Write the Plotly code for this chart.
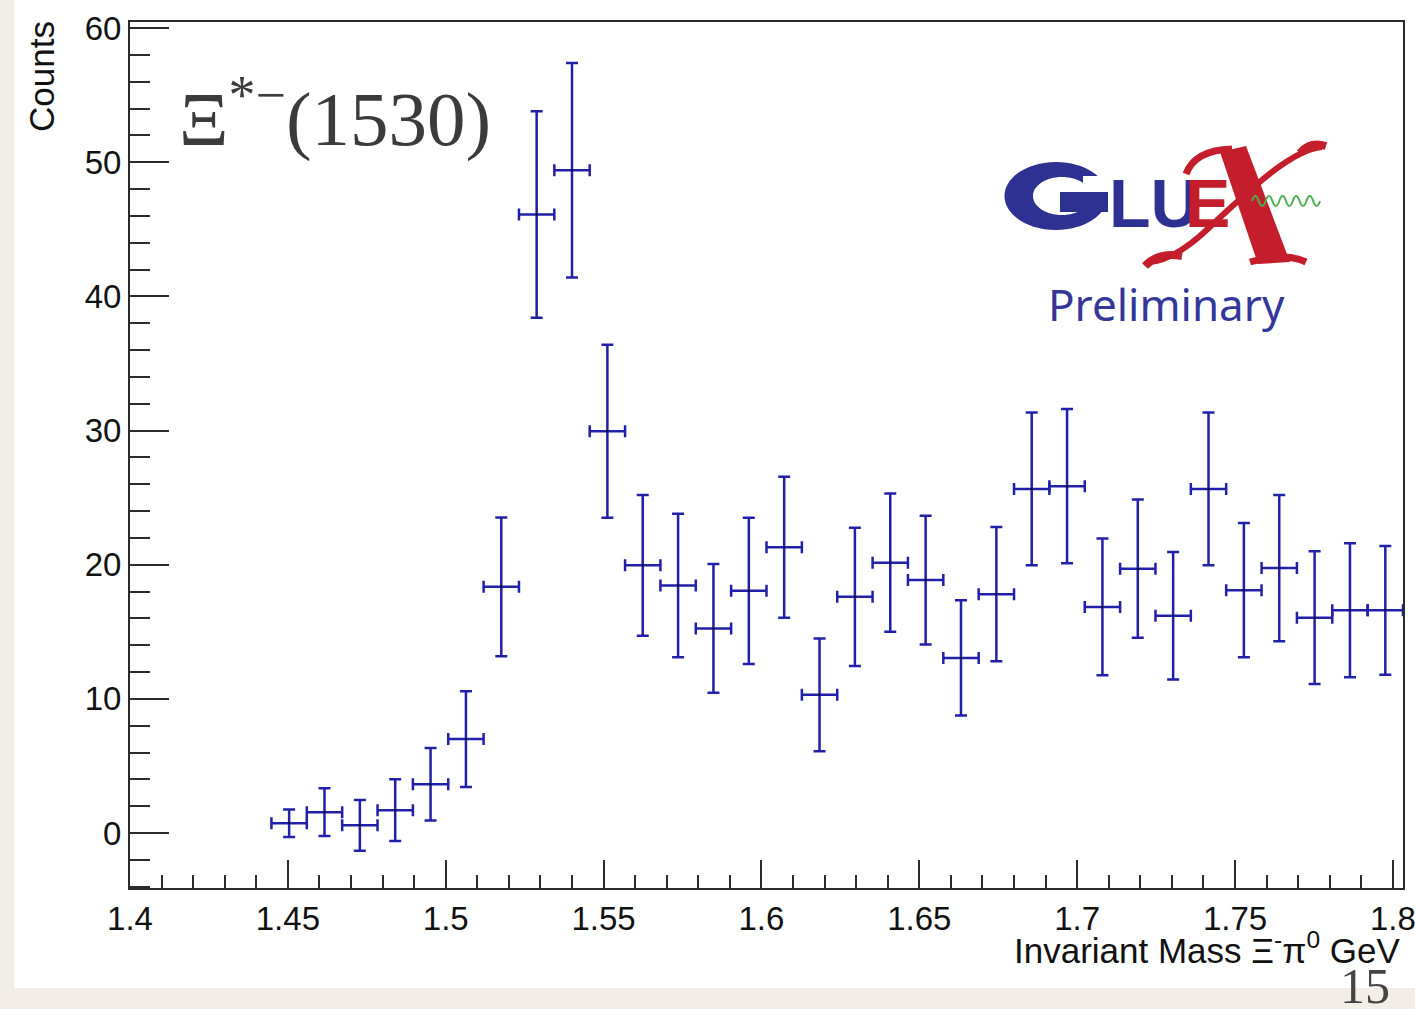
import re
import plotly.graph_objects as go

# ---------------- data ----------------
mass = [1.4504, 1.4616, 1.4728, 1.4840, 1.4952, 1.5064, 1.5176, 1.5288,
        1.5400, 1.5512, 1.5624, 1.5736, 1.5848, 1.5960, 1.6072, 1.6184,
        1.6296, 1.6408, 1.6520, 1.6632, 1.6744, 1.6856, 1.6968, 1.7080,
        1.7192, 1.7304, 1.7416, 1.7528, 1.7640, 1.7752, 1.7864, 1.7976]
counts = [0.73, 1.55, 0.57, 1.70, 3.63, 7.0, 18.35, 46.1,
          49.4, 29.95, 19.95, 18.45, 15.25, 18.05, 21.3, 10.3,
          17.6, 20.15, 18.85, 13.05, 17.8, 25.65, 25.85, 16.85,
          19.7, 16.2, 25.65, 18.1, 19.75, 16.05, 16.6, 16.6]
count_err = [1.02, 1.78, 1.89, 2.3, 2.7, 3.57, 5.17, 7.7,
             8.0, 6.45, 5.25, 5.35, 4.8, 5.45, 5.25, 4.2,
             5.15, 5.15, 4.8, 4.3, 5.0, 5.7, 5.75, 5.1,
             5.15, 4.75, 5.7, 5.0, 5.45, 4.95, 5.0, 4.8]
half_bin = [0.0056] * len(mass)

x_range = [1.4, 1.8032]
y_range = [-4.1, 60.45]
x_tickvals = [1.4, 1.45, 1.5, 1.55, 1.6, 1.65, 1.7, 1.75, 1.8]
x_ticktext = ["1.4", "1.45", "1.5", "1.55", "1.6", "1.65", "1.7", "1.75", "1.8"]

# ---------------- geometry ----------------
W, H = 1415, 1009
L, T, PW, PH = 130, 22, 1273, 866


def px(x):
    return (x - L) / PW


def py(y):
    return (T + PH - y) / PH


def path(s):
    toks = re.findall(r"[A-Za-z]|-?\d+\.?\d*", s)
    out, nums = [], []
    for t in toks:
        if t.isalpha():
            out.append(t)
        else:
            nums.append(float(t))
            if len(nums) == 2:
                out.append(f"{px(nums[0]):.5f},{py(nums[1]):.5f}")
                nums = []
    return " ".join(out)


def ellipse(cx, cy, rx, ry):
    k = 0.5523
    return (f"M {cx+rx} {cy} C {cx+rx} {cy+k*ry} {cx+k*rx} {cy+ry} {cx} {cy+ry} "
            f"C {cx-k*rx} {cy+ry} {cx-rx} {cy+k*ry} {cx-rx} {cy} "
            f"C {cx-rx} {cy-k*ry} {cx-k*rx} {cy-ry} {cx} {cy-ry} "
            f"C {cx+k*rx} {cy-ry} {cx+rx} {cy-k*ry} {cx+rx} {cy} Z")


BLUE = "#2e3192"
RED = "#c41e2c"
GREEN = "#4caf50"
ERR = "#2020a8"

fig = go.Figure()
fig.add_trace(go.Scatter(
    x=mass, y=counts, mode="markers",
    marker=dict(size=2, color="black"),
    error_y=dict(type="data", array=count_err, color=ERR, thickness=2.5, width=6),
    error_x=dict(type="data", array=half_bin, color=ERR, thickness=2.5, width=6),
    showlegend=False, hoverinfo="x+y",
))

shapes = []
# white slide panel
shapes.append(dict(type="rect", xref="paper", yref="paper", layer="below",
                   x0=px(14), x1=px(1420), y0=py(988), y1=py(-5),
                   fillcolor="white", line=dict(width=0)))
# GlueX logo: G
shapes.append(dict(type="path", xref="paper", yref="paper",
                   path=path(ellipse(1056, 196, 51.5, 34) + " " + ellipse(1062, 196, 29, 19)),
                   fillcolor=BLUE, fillrule="evenodd", line=dict(width=0)))
shapes.append(dict(type="rect", xref="paper", yref="paper",
                   x0=px(1083), x1=px(1112), y0=py(192), y1=py(176),
                   fillcolor="white", line=dict(width=0)))
shapes.append(dict(type="rect", xref="paper", yref="paper",
                   x0=px(1060), x1=px(1108), y0=py(212), y1=py(192),
                   fillcolor=BLUE, line=dict(width=0)))
# X
shapes.append(dict(type="path", xref="paper", yref="paper",
                   path=path("M 1220 152 L 1246 146 L 1290 262 L 1258 264 Z"),
                   fillcolor=RED, line=dict(width=0)))
for p, w in [("M 1186 174 Q 1195 150 1232 149", 7),
             ("M 1250 262 Q 1285 252 1306 262", 7),
             ("M 1322 147 C 1290 150 1250 190 1200 236 Q 1172 260 1150 262", 6),
             ("M 1300 153 Q 1310 141 1326 146", 8),
             ("M 1145 266 Q 1158 252 1182 256", 8)]:
    shapes.append(dict(type="path", xref="paper", yref="paper", path=path(p),
                       line=dict(color=RED, width=w), fillcolor="rgba(0,0,0,0)"))
# green wave
wx, wy, hp = 1252, 201, 6.8
wave = f"M {wx} {wy} Q {wx + hp/2} {wy - 10} {wx + hp} {wy}"
for i in range(2, 11):
    wave += f" T {wx + i*hp:.1f} {wy}"
shapes.append(dict(type="path", xref="paper", yref="paper", path=path(wave),
                   line=dict(color=GREEN, width=2), fillcolor="rgba(0,0,0,0)"))

annotations = [
    dict(text="Ξ<sup>*−</sup>(1530)", x=px(177), y=py(114), xref="paper", yref="paper",
         xanchor="left", yanchor="middle", showarrow=False,
         font=dict(family="Liberation Serif, Times New Roman, serif", size=77, color="#3b3b3b")),
    dict(text="<b>LU</b>", x=px(1107), y=py(203), xref="paper", yref="paper",
         xanchor="left", yanchor="middle", showarrow=False,
         font=dict(family="Liberation Sans Narrow, Liberation Sans, Arial", size=68, color=BLUE)),
    dict(text="<b>E</b>", x=px(1183), y=py(203), xref="paper", yref="paper",
         xanchor="left", yanchor="middle", showarrow=False,
         font=dict(family="Liberation Sans Narrow, Liberation Sans, Arial", size=68, color=RED)),
    dict(text="Preliminary", x=px(1166), y=py(304), xref="paper", yref="paper",
         xanchor="center", yanchor="middle", showarrow=False,
         font=dict(family="Noto Sans, Open Sans, sans-serif", size=44, color="#34379a")),
    dict(text="Counts", x=px(42), y=1.003, xref="paper", yref="paper",
         xanchor="center", yanchor="top", textangle=-90, showarrow=False,
         font=dict(family="Liberation Sans, Arial", size=35, color="#111")),
    dict(text="Invariant Mass Ξ<sup>-</sup>π<sup>0</sup> GeV", x=px(1402), y=py(948),
         xref="paper", yref="paper", xanchor="right", yanchor="middle", showarrow=False,
         font=dict(family="Liberation Sans, Arial", size=35, color="#111")),
    dict(text="15", x=px(1365), y=py(986), xref="paper", yref="paper",
         xanchor="center", yanchor="middle", showarrow=False,
         font=dict(family="Liberation Serif, Times New Roman, serif", size=50, color="#444")),
]

axis_common = dict(showline=True, linecolor="#2b2b2b", linewidth=2, mirror=True,
                   showgrid=False, zeroline=False, ticks="inside", automargin=False,
                   tickcolor="#2b2b2b", tickwidth=2, ticklabeloverflow="allow",
                   tickfont=dict(family="Liberation Sans, Arial", size=33, color="#111"))

fig.update_layout(
    width=W, height=H, autosize=False,
    margin=dict(l=L, r=W - L - PW, t=T, b=H - T - PH, autoexpand=False),
    paper_bgcolor="#f2eee7", plot_bgcolor="white",
    shapes=shapes, annotations=annotations,
    xaxis=dict(range=x_range, tickvals=x_tickvals, ticktext=x_ticktext, ticklen=28,
               minor=dict(dtick=0.01, tick0=1.4, ticks="inside", ticklen=13,
                          tickcolor="#2b2b2b", tickwidth=2),
               **axis_common),
    yaxis=dict(range=y_range, dtick=10, tick0=0, ticklen=39,
               minor=dict(dtick=2, tick0=0, ticks="inside", ticklen=20,
                          tickcolor="#2b2b2b", tickwidth=2),
               **axis_common),
)

fig.write_html("out.html")
